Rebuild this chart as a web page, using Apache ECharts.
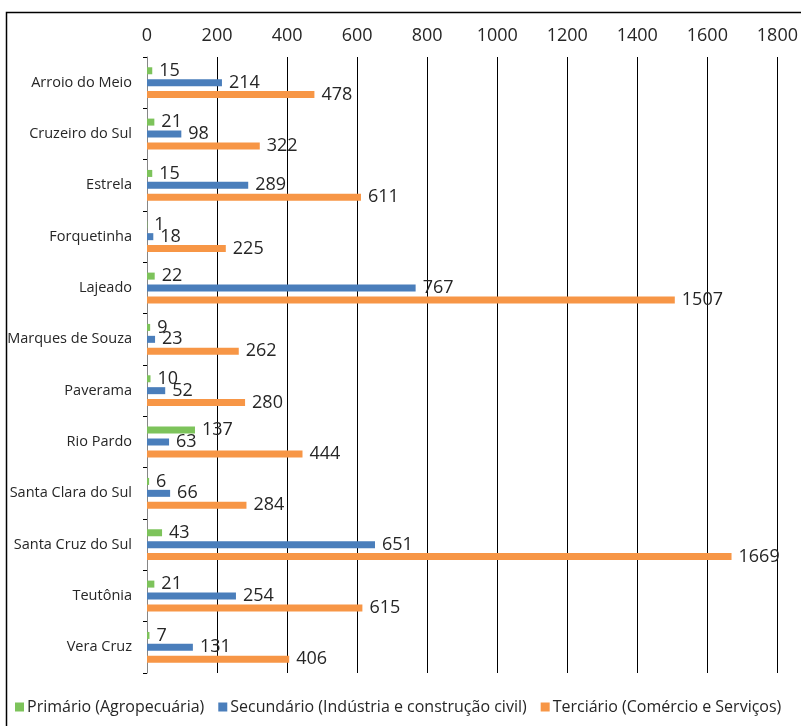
<!DOCTYPE html>
<html><head><meta charset="utf-8">
<script src="https://cdn.jsdelivr.net/npm/echarts@6/dist/echarts.min.js"></script>
<style>html,body{margin:0;padding:0;background:#fff}#c{width:801px;height:726px}</style>
</head><body><div id="c"></div>
<script>
const categories = ["Arroio do Meio","Cruzeiro do Sul","Estrela","Forquetinha","Lajeado","Marques de Souza","Paverama","Rio Pardo","Santa Clara do Sul","Santa Cruz do Sul","Teutônia","Vera Cruz"];
const primario = [15,21,15,1,22,9,10,137,6,43,21,7];
const secundario = [214,98,289,18,767,23,52,63,66,651,254,131];
const terciario = [478,322,611,225,1507,262,280,444,284,1669,615,406];
const seriesNames = ["Primário (Agropecuária)","Secundário (Indústria e construção civil)","Terciário (Comércio e Serviços)"];
const colors = ["#7DC35B","#4A7EBB","#F79646"];
const FONT = "Open Sans";
const chart = echarts.init(document.getElementById('c'), null, {renderer:'canvas'});
function mk(name, data, color){
  return {name, type:'bar', data, barWidth:7, barGap:'70%',
    itemStyle:{color},
    label:{show:true, position:'right', distance:7, fontSize:18, fontFamily:FONT, color:'#262626'}};
}
chart.setOption({
  animation:false,
  textStyle:{fontFamily:FONT},
  graphic:[{type:'polyline', shape:{points:[[6.5,760],[6.5,12.5],[820,12.5]]}, style:{stroke:'#000', lineWidth:1.5, fill:null}, silent:true}],
  grid:{left:147, right:19, top:57, bottom:53},
  legend:{bottom:6, left:10, itemWidth:9, itemHeight:9, itemGap:14, icon:'rect',
    textStyle:{fontSize:16, fontFamily:FONT, color:'#262626', padding:[0,0,0,-2]},
    data:seriesNames},
  xAxis:{type:'value', position:'top', min:0, max:1800, interval:200,
    axisLine:{show:false}, axisTick:{show:false},
    axisLabel:{fontSize:18, fontFamily:FONT, color:'#262626', margin:12, formatter:(v)=>String(v)},
    splitLine:{show:true, lineStyle:{color:'#000', width:1}}},
  yAxis:{type:'category', inverse:true, data:categories,
    axisLine:{show:true, lineStyle:{color:'#868686', width:1}},
    axisTick:{show:true, length:4, lineStyle:{color:'#000'}},
    axisLabel:{fontSize:14.5, fontFamily:FONT, color:'#262626', margin:15}},
  series:[mk(seriesNames[0], primario, colors[0]), mk(seriesNames[1], secundario, colors[1]), mk(seriesNames[2], terciario, colors[2])]
});
</script></body></html>
